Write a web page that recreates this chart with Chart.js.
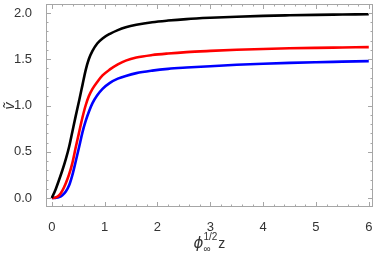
<!DOCTYPE html>
<html>
<head>
<meta charset="utf-8">
<script src="https://cdn.jsdelivr.net/npm/chart.js@4/dist/chart.umd.min.js"></script>
<style>
  html, body { margin: 0; padding: 0; background: #fff; }
  #wrap { width: 382px; height: 257px; }
</style>
</head>
<body>
<div id="wrap"><canvas id="plot"></canvas></div>
<script>
// sample positions along phi^(1/2) z
const xs = [0, 0.07, 0.14, 0.2, 0.265, 0.33, 0.39, 0.45, 0.52, 0.58, 0.64, 0.7, 0.77, 0.86, 0.96,
            1.1, 1.25, 1.4, 1.6, 1.9, 2.2, 2.55, 3, 3.5, 4, 4.5, 5, 5.5, 6];
const blackVals = [0, 0.09, 0.2, 0.3, 0.42, 0.56, 0.72, 0.88, 1.06, 1.22, 1.38, 1.5, 1.59, 1.67, 1.725,
                   1.775, 1.815, 1.845, 1.872, 1.9, 1.918, 1.934, 1.948, 1.96, 1.969, 1.975, 1.98, 1.983, 1.986];
const redVals = [0, 0.005, 0.03, 0.08, 0.16, 0.26, 0.38, 0.54, 0.72, 0.87, 1.0, 1.1, 1.18, 1.255, 1.325,
                 1.39, 1.445, 1.485, 1.518, 1.545, 1.562, 1.577, 1.59, 1.602, 1.611, 1.618, 1.623, 1.627, 1.631];
const blueVals = [0, 0.002, 0.01, 0.03, 0.07, 0.14, 0.25, 0.39, 0.56, 0.71, 0.83, 0.93, 1.025, 1.11, 1.18,
                  1.245, 1.29, 1.32, 1.35, 1.377, 1.396, 1.41, 1.425, 1.44, 1.452, 1.461, 1.468, 1.474, 1.48];
const xTicks = [0, 1, 2, 3, 4, 5, 6];
const yTicks = [0, 0.5, 1.0, 1.5, 2.0];

function pts(vals) {
  return xs.map((x, i) => ({ x: x, y: vals[i] }));
}

function line(vals, color) {
  return {
    data: pts(vals),
    borderColor: color,
    borderWidth: 2.6,
    pointRadius: 0,
    fill: false,
    cubicInterpolationMode: 'monotone'
  };
}

// mathematica style frame with inward ticks on every side
const frameTicks = {
  id: 'frameTicks',
  afterDraw(chart) {
    const c = chart.ctx, a = chart.chartArea;
    const sx = chart.scales.x, sy = chart.scales.y;
    c.save();
    c.strokeStyle = '#a6a6a6';
    c.lineWidth = 1;
    c.strokeRect(a.left + 0.5, a.top + 0.5, a.right - a.left - 1, a.bottom - a.top - 1);
    for (let i = 0; i <= 30; i++) {
      const v = i * 0.2;
      const len = i % 5 === 0 ? 5 : 2.5;
      const p = Math.round(sx.getPixelForValue(v)) + 0.5;
      c.beginPath();
      c.moveTo(p, a.bottom); c.lineTo(p, a.bottom - len);
      c.moveTo(p, a.top); c.lineTo(p, a.top + len);
      c.stroke();
    }
    for (let i = 0; i <= 20; i++) {
      const v = i * 0.1;
      const len = i % 5 === 0 ? 5 : 2.5;
      const p = Math.round(sy.getPixelForValue(v)) + 0.5;
      c.beginPath();
      c.moveTo(a.left, p); c.lineTo(a.left + len, p);
      c.moveTo(a.right, p); c.lineTo(a.right - len, p);
      c.stroke();
    }
    // axis titles
    c.fillStyle = '#333';
    const cx = (a.left + a.right) / 2;
    c.textBaseline = 'alphabetic';
    c.font = 'italic 15px "DejaVu Sans"';
    c.textAlign = 'left';
    const x0 = cx - 16;
    c.fillText('\u03D5', x0, 248);
    const w0 = c.measureText('\u03D5').width;
    c.font = '10px "Liberation Sans"';
    c.fillText('1/2', x0 + w0, 240);
    c.fillText('\u221E', x0 + w0, 252);
    const w1 = c.measureText('1/2').width;
    c.font = '14px "Liberation Sans"';
    c.fillText('z', x0 + w0 + w1 + 1, 248);
    c.translate(14, 106);
    c.rotate(-Math.PI / 2);
    c.textAlign = 'center';
    c.font = 'italic 14px "Liberation Sans"';
    c.fillText('\u1E7D', 0, 0);
    c.restore();
  }
};

function noPad(s) {
  s.paddingTop = 0; s.paddingBottom = 0; s.paddingLeft = 0; s.paddingRight = 0;
}

const ctx = document.getElementById('plot').getContext('2d');
const chart = new Chart(ctx, {
  type: 'line',
  data: {
    datasets: [
      line(blackVals, '#000000'),
      line(redVals, '#ff0000'),
      line(blueVals, '#0000ff')
    ]
  },
  options: {
    responsive: true,
    maintainAspectRatio: false,
    animation: false,
    layout: { padding: { top: 4, right: 9, left: 0, bottom: 0 } },
    plugins: { legend: { display: false }, tooltip: { enabled: false } },
    scales: {
      x: {
        type: 'linear',
        min: -0.11,
        max: 6.08,
        afterBuildTicks: s => { s.ticks = xTicks.map(v => ({ value: v })); },
        afterFit: s => { s.height = 50; noPad(s); },
        grid: { display: false },
        border: { display: false },
        ticks: {
          color: '#333',
          font: { family: 'Liberation Sans', size: 13 },
          padding: 5,
          maxRotation: 0,
          callback: v => String(v)
        }
      },
      y: {
        type: 'linear',
        min: -0.097,
        max: 2.097,
        afterBuildTicks: s => { s.ticks = yTicks.map(v => ({ value: v })); },
        afterFit: s => { s.width = 46; noPad(s); },
        grid: { display: false },
        border: { display: false },
        ticks: {
          color: '#333',
          font: { family: 'Liberation Sans', size: 13 },
          padding: 6,
          callback: v => v.toFixed(1)
        }
      }
    }
  },
  plugins: [frameTicks]
});
</script>
</body>
</html>
